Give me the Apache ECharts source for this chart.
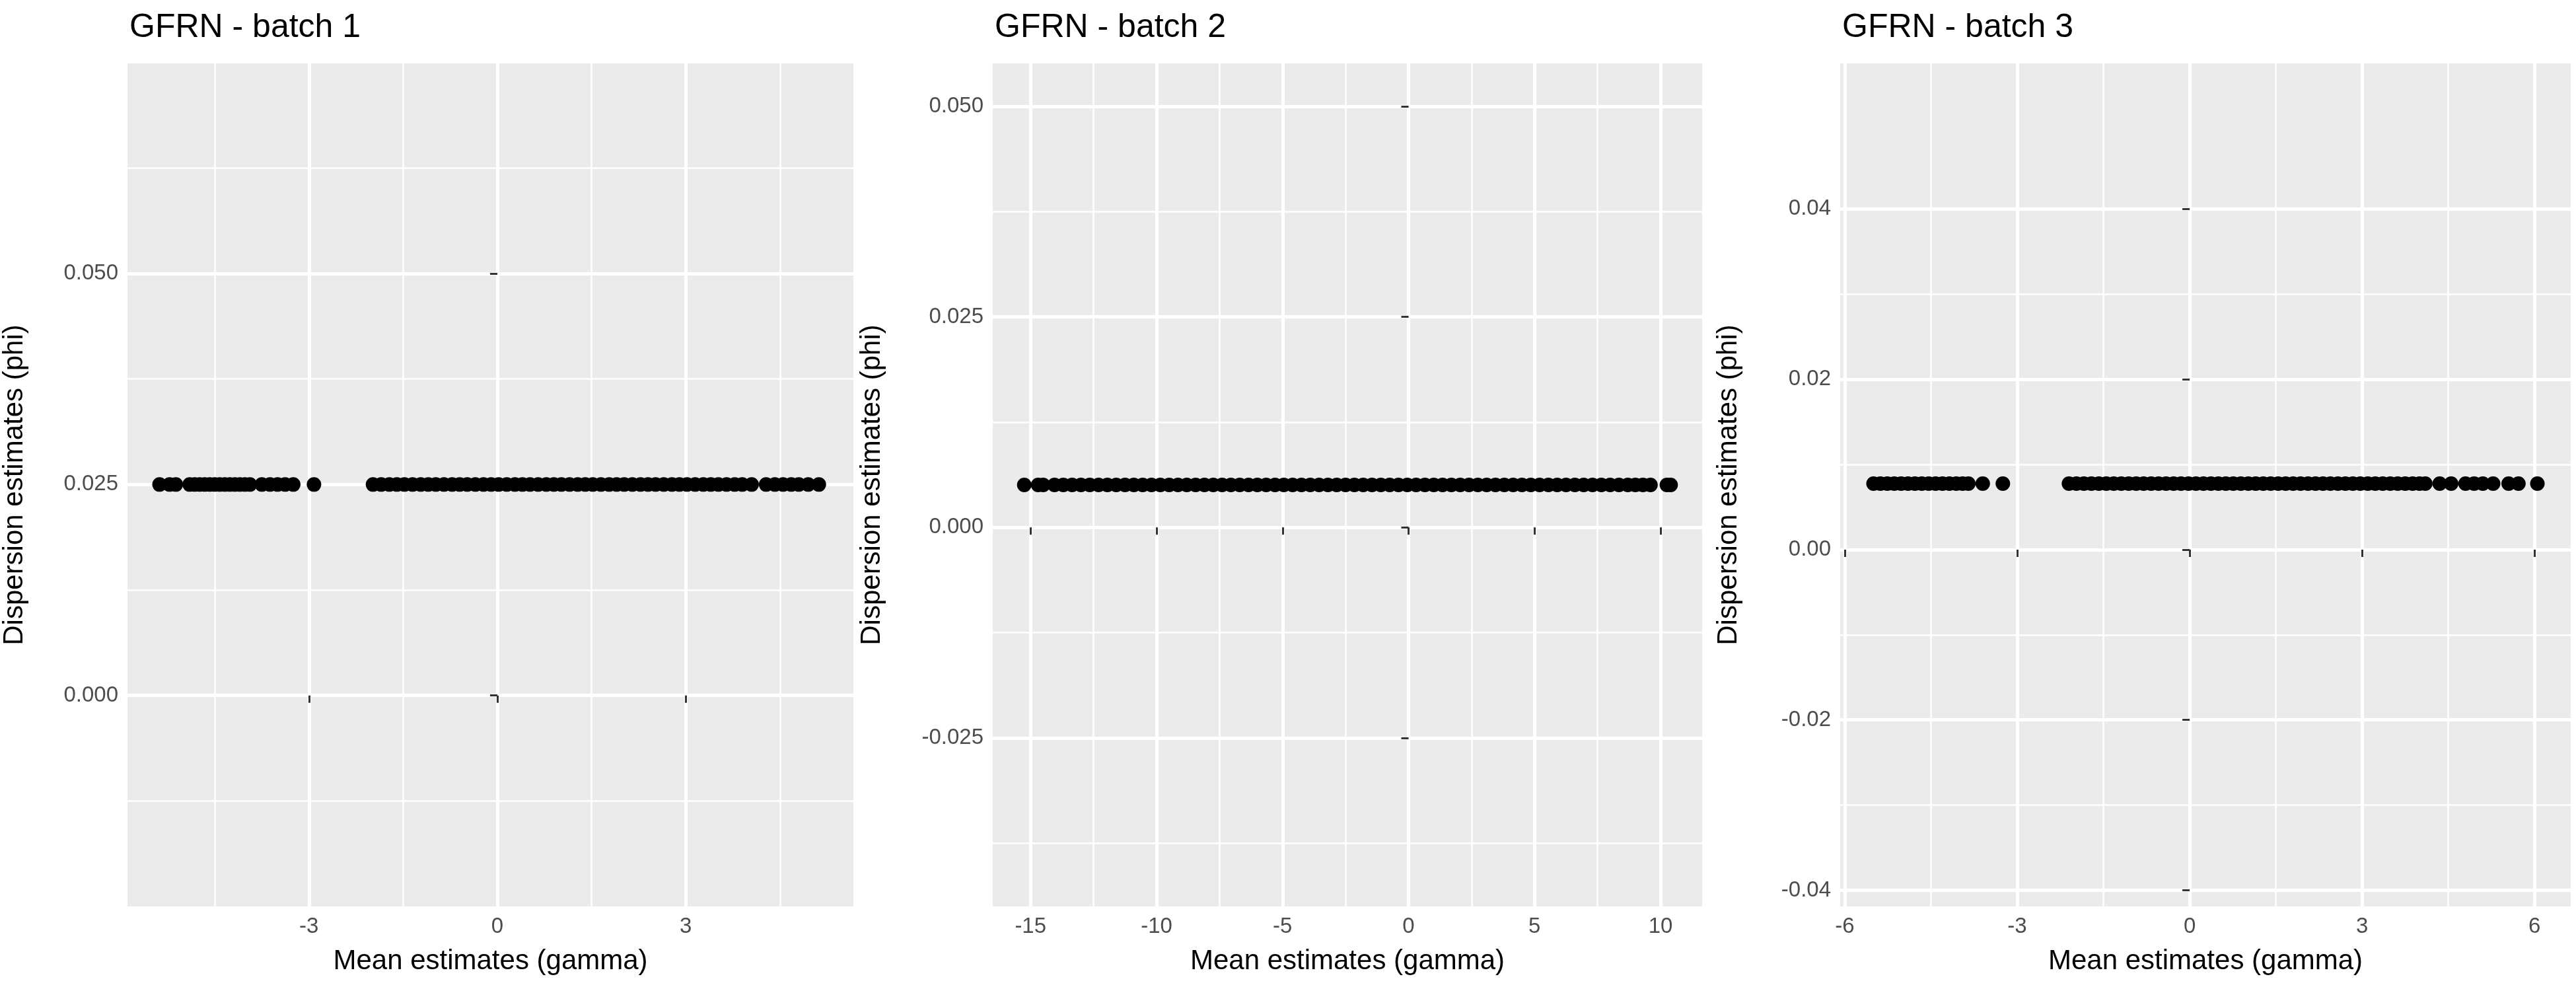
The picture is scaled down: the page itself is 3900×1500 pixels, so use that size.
<!DOCTYPE html>
<html>
<head>
<meta charset="utf-8">
<script src="https://cdn.jsdelivr.net/npm/echarts@6/dist/echarts.min.js"></script>
<style>
  html, body { margin: 0; padding: 0; background: #fff; }
  #chart { width: 3900px; height: 1500px; }
</style>
</head>
<body>
<div id="chart"></div>
<script>
// panel titles
const titles = ['GFRN - batch 1', 'GFRN - batch 2', 'GFRN - batch 3']

// mean estimates (gamma)
const gamma1 = [
  -5.38, -5.22, -5.12, -4.9, -4.82, -4.74, -4.66, -4.58, -4.5, -4.42, -4.34, -4.26, -4.18, -4.1, -4.02, -3.94,
  -3.75, -3.62, -3.5, -3.38, -3.25, -2.92,
  -1.98, -1.85, -1.72, -1.6, -1.48, -1.35, -1.22, -1.1, -0.98, -0.85, -0.72, -0.6, -0.48, -0.35, -0.22, -0.1,
  0.02, 0.15, 0.28, 0.4, 0.52, 0.65, 0.78, 0.9, 1.02, 1.15, 1.28, 1.4, 1.52, 1.65, 1.78, 1.9, 2.02, 2.15,
  2.28, 2.4, 2.52, 2.65, 2.78, 2.9, 3.02, 3.15, 3.28, 3.4, 3.52, 3.65, 3.78, 3.9, 4.05,
  4.28, 4.42, 4.55, 4.68, 4.8, 4.95, 5.12
]
const gamma2 = [
  -15.25, -14.7, -14.5, -14.05, -13.7, -13.35, -13.0, -12.65, -12.3, -11.95, -11.6, -11.25, -10.9, -10.55,
  -10.2, -9.85, -9.5, -9.15, -8.8, -8.45, -8.1, -7.75, -7.4, -7.05, -6.7, -6.35, -6.0, -5.65, -5.3, -4.95,
  -4.6, -4.25, -3.9, -3.55, -3.2, -2.85, -2.5, -2.15, -1.8, -1.45, -1.1, -0.75, -0.4, -0.05, 0.3, 0.65, 1.0,
  1.35, 1.7, 2.05, 2.4, 2.75, 3.1, 3.45, 3.8, 4.15, 4.5, 4.85, 5.2, 5.55, 5.9, 6.25, 6.6, 6.95, 7.3, 7.65,
  8.0, 8.35, 8.7, 9.0, 9.3, 9.6, 10.25, 10.4
]
const gamma3 = [
  -5.5, -5.38, -5.26, -5.14, -5.02, -4.9, -4.78, -4.66, -4.54, -4.42, -4.3, -4.18, -4.06, -3.95, -3.85, -3.6, -3.25,
  -2.1, -1.97, -1.84, -1.71, -1.58, -1.45, -1.32, -1.19, -1.06, -0.93, -0.8, -0.67, -0.54, -0.41, -0.28, -0.15,
  -0.02, 0.11, 0.24, 0.37, 0.5, 0.63, 0.76, 0.89, 1.02, 1.15, 1.28, 1.41, 1.54, 1.67, 1.8, 1.93, 2.06, 2.19,
  2.32, 2.45, 2.58, 2.71, 2.84, 2.97, 3.1, 3.23, 3.36, 3.49, 3.62, 3.75, 3.88, 4.0, 4.1,
  4.35, 4.55, 4.8, 4.95, 5.1, 5.28, 5.55, 5.72, 6.05
]
// dispersion estimates (phi): one value per batch
const phi = [0.025, 0.00505, 0.00775]

// tick labels
const xTicks = [[-3, 0, 3], [-15, -10, -5, 0, 5, 10], [-6, -3, 0, 3, 6]]
const xMinor = [[-4.5, -1.5, 1.5, 4.5], [-12.5, -7.5, -2.5, 2.5, 7.5], [-4.5, -1.5, 1.5, 4.5]]
const yTicks = [[0, 0.025, 0.05, 0.075], [-0.025, 0, 0.025, 0.05], [-0.04, -0.02, 0, 0.02, 0.04]]
const yMinor = [[-0.0125, 0.0125, 0.0375, 0.0625], [-0.0375, -0.0125, 0.0125, 0.0375], [-0.03, -0.01, 0.01, 0.03]]
const yDigits = [3, 3, 2]

const xRange = [[-5.89, 5.67], [-16.5, 11.65], [-6.08, 6.63]]
const yRange = [[-0.025, 0.0749], [-0.045, 0.0551], [-0.0419, 0.0571]]

const gammas = [gamma1, gamma2, gamma3]
const panels = [
  { left: 193, width: 1099, titleGap: 150 },
  { left: 1503, width: 1074, titleGap: 162 },
  { left: 2786, width: 1106, titleGap: 148 },
]
const FONT = 'Liberation Sans'

const chart = echarts.init(document.getElementById('chart'))

const grid = [], xAxis = [], yAxis = [], series = [], title = []
panels.forEach((p, i) => {
  grid.push({ left: p.left, width: p.width, top: 96, height: 1276, backgroundColor: '#ebebeb', show: true, borderWidth: 0 })
  title.push({ text: titles[i], left: p.left - 2, top: 12, textStyle: { fontFamily: FONT, fontSize: 50, fontWeight: 'normal', color: '#000' } })
  // main x axis
  xAxis.push({
    type: 'value', gridIndex: i, min: xRange[i][0], max: xRange[i][1],
    name: 'Mean estimates (gamma)', nameLocation: 'middle', nameGap: 62,
    nameTextStyle: { fontFamily: FONT, fontSize: 42, color: '#000' },
    axisLine: { show: false },
    axisTick: { show: true, length: 11, lineStyle: { color: '#333', width: 3 }, customValues: xTicks[i] },
    axisLabel: { customValues: xTicks[i], fontFamily: FONT, fontSize: 33, color: '#4d4d4d', margin: 14 },
    splitLine: { show: true, lineStyle: { color: '#fff', width: 5 } },
  })
  // minor grid x axis
  xAxis.push({
    type: 'value', gridIndex: i, min: xRange[i][0], max: xRange[i][1],
    axisLine: { show: false }, axisLabel: { show: false },
    axisTick: { show: false, customValues: xMinor[i] },
    splitLine: { show: true, lineStyle: { color: '#fff', width: 2.5 } },
  })
  yAxis.push({
    type: 'value', gridIndex: i, min: yRange[i][0], max: yRange[i][1],
    name: 'Dispersion estimates (phi)', nameLocation: 'middle', nameGap: p.titleGap, nameRotate: 90,
    nameTextStyle: { fontFamily: FONT, fontSize: 42, color: '#000' },
    axisLine: { show: false },
    axisTick: { show: true, length: 11, lineStyle: { color: '#333', width: 3 }, customValues: yTicks[i] },
    axisLabel: { customValues: yTicks[i], fontFamily: FONT, fontSize: 33, color: '#4d4d4d', margin: 14,
      formatter: (v) => v.toFixed(yDigits[i]) },
    splitLine: { show: true, lineStyle: { color: '#fff', width: 5 } },
  })
  yAxis.push({
    type: 'value', gridIndex: i, min: yRange[i][0], max: yRange[i][1],
    axisLine: { show: false }, axisLabel: { show: false },
    axisTick: { show: false, customValues: yMinor[i] },
    splitLine: { show: true, lineStyle: { color: '#fff', width: 2.5 } },
  })
  series.push({
    type: 'scatter', xAxisIndex: i * 2, yAxisIndex: i * 2,
    symbolSize: 22, itemStyle: { color: '#000', opacity: 1 },
    data: gammas[i].map((g) => [g, phi[i]]),
    silent: true, animation: false, z: 5,
  })
})

chart.setOption({ animation: false, title, grid, xAxis, yAxis, series })
</script>
</body>
</html>
